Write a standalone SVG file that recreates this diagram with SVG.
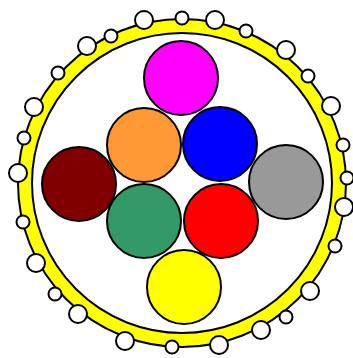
<svg xmlns="http://www.w3.org/2000/svg" width="353" height="358" viewBox="0 0 353 358">
<style>
.c{stroke:#000;stroke-width:2}
.big{fill:#fff;stroke:#000;stroke-width:2}
</style>
<rect width="353" height="358" fill="#fff"/>
<g id="ring">
<circle cx="182" cy="183" r="164" fill="#ffff00" stroke="#000" stroke-width="2"/>
<circle cx="182" cy="183" r="150" fill="#fff" stroke="#000" stroke-width="2"/>
</g>
<g id="beads">
<circle class="big" cx="144" cy="20" r="9"/>
<circle class="big" cx="182" cy="18" r="6.5"/>
<circle class="big" cx="215" cy="20" r="9"/>
<circle class="big" cx="246" cy="31" r="6.5"/>
<circle class="big" cx="286" cy="50" r="9"/>
<circle class="big" cx="308" cy="76" r="6.5"/>
<circle class="big" cx="331" cy="106" r="9"/>
<circle class="big" cx="343" cy="145" r="6.5"/>
<circle class="big" cx="347" cy="178" r="6.5"/>
<circle class="big" cx="344" cy="207" r="9"/>
<circle class="big" cx="335" cy="246" r="6.5"/>
<circle class="big" cx="310" cy="291" r="9"/>
<circle class="big" cx="286" cy="317" r="6.5"/>
<circle class="big" cx="261" cy="330" r="9"/>
<circle class="big" cx="219" cy="345" r="9"/>
<circle class="big" cx="172" cy="347" r="6.5"/>
<circle class="big" cx="125" cy="341" r="9"/>
<circle class="big" cx="78" cy="314" r="9"/>
<circle class="big" cx="55" cy="294" r="6.5"/>
<circle class="big" cx="36" cy="263" r="9"/>
<circle class="big" cx="23" cy="222" r="6.5"/>
<circle class="big" cx="18" cy="173" r="9"/>
<circle class="big" cx="24" cy="138" r="6.5"/>
<circle class="big" cx="34" cy="107" r="9"/>
<circle class="big" cx="58" cy="73" r="6.5"/>
<circle class="big" cx="87" cy="46" r="9"/>
<circle class="big" cx="111" cy="36" r="6.5"/>
</g>
<g id="connectors"/>
<g id="magenta"><circle class="c" cx="181" cy="78" r="37" fill="#ff00ff"/></g>
<g id="orange"><circle class="c" cx="144" cy="145" r="37" fill="#ff9933"/></g>
<g id="blue"><circle class="c" cx="220" cy="144" r="37" fill="#0000ff"/></g>
<g id="maroon"><circle class="c" cx="79" cy="184" r="37" fill="#800000"/></g>
<g id="gray"><circle class="c" cx="286" cy="182" r="37" fill="#999999"/></g>
<g id="green"><circle class="c" cx="144" cy="221" r="37" fill="#339966"/></g>
<g id="red"><circle class="c" cx="221" cy="221" r="37" fill="#ff0000"/></g>
<g id="yellow"><circle class="c" cx="184" cy="287" r="37" fill="#ffff00"/></g>
</svg>
